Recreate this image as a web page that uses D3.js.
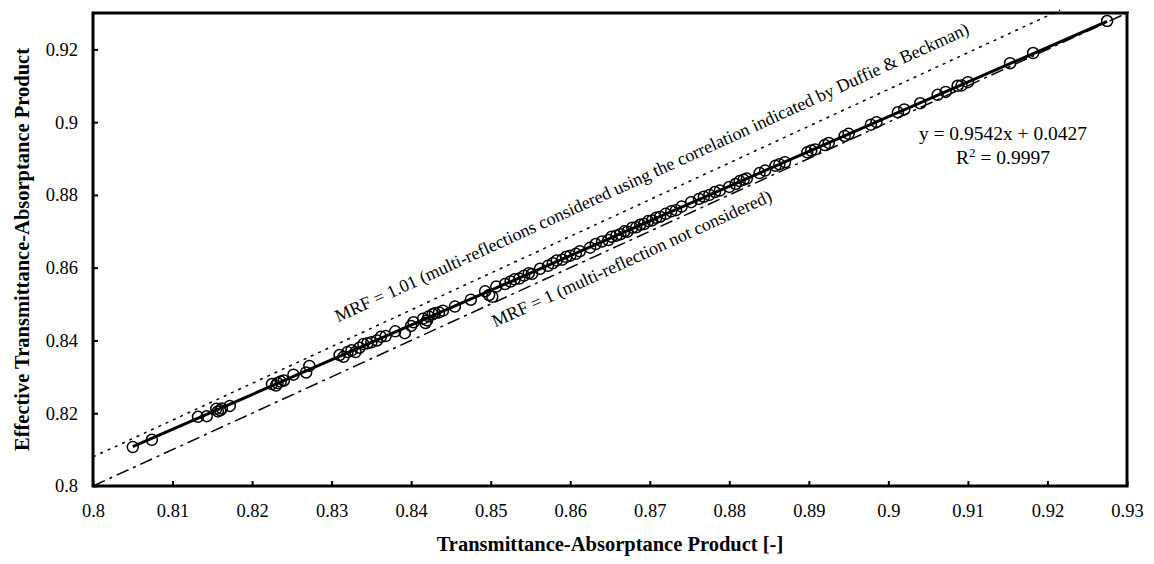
<!DOCTYPE html>
<html>
<head>
<meta charset="utf-8">
<script src="https://cdn.jsdelivr.net/npm/d3@7"></script>
<style>
  html, body { margin: 0; padding: 0; background: #fff; }
  svg { display: block; font-family: "Liberation Serif", "Times New Roman", serif; }
</style>
</head>
<body>
<svg id="chart" width="1154" height="564"></svg>
<script>
// ---- data ----
const xTicks = [0.80, 0.81, 0.82, 0.83, 0.84, 0.85, 0.86, 0.87, 0.88, 0.89, 0.90, 0.91, 0.92, 0.93];
const xTickLabels = ["0.8", "0.81", "0.82", "0.83", "0.84", "0.85", "0.86", "0.87", "0.88", "0.89", "0.9", "0.91", "0.92", "0.93"];
const yTicks = [0.80, 0.82, 0.84, 0.86, 0.88, 0.90, 0.92];
const yTickLabels = ["0.8", "0.82", "0.84", "0.86", "0.88", "0.9", "0.92"];

const taX = [0.8050, 0.8074, 0.8132, 0.8143, 0.8155, 0.8157, 0.8160, 0.8162, 0.8172, 0.8225,
  0.8230, 0.8232, 0.8236, 0.8240, 0.8252, 0.8268, 0.8272, 0.8310, 0.8315, 0.8320,
  0.8325, 0.8330, 0.8335, 0.8340, 0.8345, 0.8350, 0.8357, 0.8362, 0.8368, 0.8380,
  0.8392, 0.8400, 0.8403, 0.8415, 0.8418, 0.8420, 0.8422, 0.8427, 0.8430, 0.8435,
  0.8440, 0.8455, 0.8475, 0.8493, 0.8498, 0.8502, 0.8507, 0.8518, 0.8525, 0.8530,
  0.8536, 0.8542, 0.8548, 0.8552, 0.8562, 0.8572, 0.8578, 0.8583, 0.8590, 0.8595,
  0.8600, 0.8607, 0.8612, 0.8625, 0.8632, 0.8640, 0.8648, 0.8652, 0.8658, 0.8663,
  0.8668, 0.8672, 0.8678, 0.8683, 0.8688, 0.8693, 0.8698, 0.8703, 0.8708, 0.8713,
  0.8720, 0.8727, 0.8733, 0.8740, 0.8752, 0.8762, 0.8768, 0.8775, 0.8782, 0.8788,
  0.8800, 0.8808, 0.8813, 0.8818, 0.8822, 0.8838, 0.8845, 0.8858, 0.8863, 0.8870,
  0.8898, 0.8903, 0.8908, 0.8920, 0.8925, 0.8945, 0.8950, 0.8978, 0.8985, 0.9012,
  0.9020, 0.9040, 0.9062, 0.9072, 0.9087, 0.9092, 0.9100, 0.9153, 0.9182, 0.9275];
const effTA = [0.8107, 0.8127, 0.8190, 0.8192, 0.8212, 0.8205, 0.8208, 0.8213, 0.8220, 0.8280,
  0.8276, 0.8283, 0.8287, 0.8290, 0.8306, 0.8312, 0.8330, 0.8360, 0.8355, 0.8368,
  0.8373, 0.8368, 0.8380, 0.8390, 0.8392, 0.8395, 0.8400, 0.8410, 0.8412, 0.8425,
  0.8420, 0.8440, 0.8450, 0.8460, 0.8448, 0.8455, 0.8466, 0.8472, 0.8475, 0.8477,
  0.8482, 0.8493, 0.8512, 0.8535, 0.8525, 0.8520, 0.8548, 0.8555, 0.8562, 0.8568,
  0.8570, 0.8578, 0.8585, 0.8583, 0.8597, 0.8605, 0.8612, 0.8620, 0.8622, 0.8630,
  0.8633, 0.8638, 0.8645, 0.8655, 0.8665, 0.8672, 0.8676, 0.8685, 0.8688, 0.8692,
  0.8700, 0.8699, 0.8710, 0.8711, 0.8718, 0.8720, 0.8728, 0.8730, 0.8737, 0.8740,
  0.8748, 0.8755, 0.8758, 0.8768, 0.8780, 0.8789, 0.8795, 0.8800, 0.8808, 0.8812,
  0.8822, 0.8830, 0.8838, 0.8842, 0.8845, 0.8860, 0.8867, 0.8880, 0.8884, 0.8890,
  0.8917, 0.8922, 0.8925, 0.8937, 0.8943, 0.8962, 0.8968, 0.8993, 0.9000, 0.9027,
  0.9035, 0.9052, 0.9075, 0.9083, 0.9100, 0.9101, 0.9110, 0.9162, 0.9190, 0.9278];

const fitSlope = 0.9542;
const fitIntercept = 0.0427;
const fitR2 = "0.9997";
const mrfValues = [1.01, 1.0];
const mrfLabels = ["MRF = 1.01 (multi-reflections considered using the correlation indicated by Duffie & Beckman)",
                   "MRF = 1 (multi-reflection not considered)"];
const xTitle = "Transmittance-Absorptance Product [-]";
const yTitle = "Effective Transmittance-Absorptance Product";

// ---- layout ----
const margin = {left: 93, top: 13, right: 27, bottom: 78};
const W = 1154, H = 564;
const iw = W - margin.left - margin.right;
const ih = H - margin.top - margin.bottom;

const svg = d3.select("#chart");
const g = svg.append("g").attr("transform", `translate(${margin.left},${margin.top})`);

const x = d3.scaleLinear().domain([0.80, 0.93]).range([0, iw]);
const y = d3.scaleLinear().domain([0.80, 0.93]).range([ih, 0]);

const FS = 18.5;

// axes (ticks inward)
const xAxis = d3.axisBottom(x).tickValues(xTicks).tickSize(-5).tickPadding(18)
  .tickFormat((d, i) => xTickLabels[i]);
const yAxis = d3.axisLeft(y).tickValues(yTicks).tickSize(-5).tickPadding(15)
  .tickFormat((d, i) => yTickLabels[i]);

const gx = g.append("g").attr("transform", `translate(0,${ih})`).call(xAxis);
const gy = g.append("g").call(yAxis);
[gx, gy].forEach(a => {
  a.select(".domain").remove();
  a.selectAll(".tick line").attr("stroke", "#000").attr("stroke-width", 2);
  a.selectAll(".tick text").attr("fill", "#000")
    .style("font-family", '"Liberation Serif", serif').style("font-size", FS + "px");
});

// reference lines MRF
const lineGen = d3.line().x(d => x(d[0])).y(d => y(d[1]));
const yEnd = 0.9308;
const mrfStyles = [
  {dash: "3,5", width: 1.5},
  {dash: "13,5,3,5", width: 1.5}
];
mrfValues.forEach((m, i) => {
  const pts = [[0.80, 0.80 * m], [yEnd / m, yEnd]];
  g.append("path").attr("d", lineGen(pts)).attr("fill", "none")
    .attr("stroke", "#000").attr("stroke-width", mrfStyles[i].width)
    .attr("stroke-dasharray", mrfStyles[i].dash);
});

// regression line
const xmin = d3.min(taX), xmax = d3.max(taX);
g.append("path")
  .attr("d", lineGen([[xmin, fitSlope * xmin + fitIntercept], [xmax, fitSlope * xmax + fitIntercept]]))
  .attr("fill", "none").attr("stroke", "#000").attr("stroke-width", 3);

// points
g.append("g").selectAll("circle").data(taX).join("circle")
  .attr("cx", d => x(d)).attr("cy", (d, i) => y(effTA[i]))
  .attr("r", 5.5).attr("fill", "none").attr("stroke", "#000").attr("stroke-width", 1.5);

// frame
g.append("rect").attr("x", 0).attr("y", 0).attr("width", iw).attr("height", ih)
  .attr("fill", "none").attr("stroke", "#000").attr("stroke-width", 3);

// rotated labels
const ang = -Math.atan((y(0.80) - y(0.90)) / (x(0.90) - x(0.80))) * 180 / Math.PI;
const labelAnchors = [[0.83082, 0.84493], [0.85057, 0.84356]];
mrfLabels.forEach((t, i) => {
  const px = x(labelAnchors[i][0]), py = y(labelAnchors[i][1]);
  g.append("text").attr("x", 0).attr("y", 0)
    .attr("transform", `translate(${px},${py}) rotate(${ang})`)
    .style("font-size", "18px").attr("fill", "#000").text(t);
});

// equation
const eqX = 1003 - margin.left;
g.append("text").attr("x", eqX).attr("y", 140 - margin.top).attr("text-anchor", "middle")
  .style("font-size", "19.5px").text(`y = ${fitSlope}x + ${fitIntercept}`);
const r2 = g.append("text").attr("x", eqX).attr("y", 164 - margin.top).attr("text-anchor", "middle")
  .style("font-size", "19.5px");
r2.append("tspan").text("R");
r2.append("tspan").attr("dy", -7).style("font-size", "13px").text("2");
r2.append("tspan").attr("dy", 7).text(` = ${fitR2}`);

// axis titles
svg.append("text").attr("x", margin.left + iw / 2).attr("y", 551).attr("text-anchor", "middle")
  .style("font-size", "20.5px").style("font-weight", "bold").text(xTitle);
svg.append("text").attr("transform", `translate(29,${margin.top + ih / 2}) rotate(-90)`)
  .attr("text-anchor", "middle")
  .style("font-size", "20.5px").style("font-weight", "bold").text(yTitle);
</script>
</body>
</html>
